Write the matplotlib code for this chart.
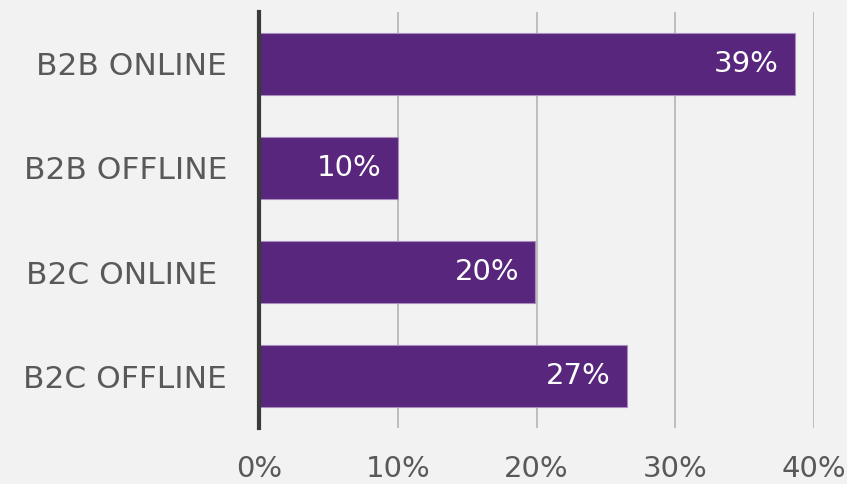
import matplotlib.pyplot as plt
from matplotlib.ticker import FuncFormatter

categories = ['B2B ONLINE', 'B2B OFFLINE', 'B2C ONLINE ', 'B2C OFFLINE']
shares = [38.6, 10.0, 19.9, 26.5]
value_labels = ['39%', '10%', '20%', '27%']
x_ticks = [0, 10, 20, 30, 40]

BG = '#f2f2f2'
PURPLE = '#58267c'
TEXT = '#595959'

plt.rcParams['font.family'] = ['DejaVu Sans']

fig = plt.figure(figsize=(8.47, 4.84), dpi=100, facecolor=BG)
ax = fig.add_axes([259 / 847, 56 / 484, 555 / 847, 416 / 484], facecolor=BG)

y = list(range(len(categories)))
ax.barh(y, shares, height=0.6, color=PURPLE, edgecolor='#a98bbd', linewidth=0.8, zorder=3)
for yi, v, lab in zip(y, shares, value_labels):
    ax.text(v - 1.15, yi, lab, ha='right', va='center', color='white',
            fontsize=21, zorder=4)

ax.set_ylim(len(categories) - 0.5, -0.5)
ax.set_xlim(0, 40)
ax.set_yticks(y)
ax.set_yticklabels(categories, fontsize=22.5, color=TEXT)
ax.set_xticks(x_ticks)
ax.xaxis.set_major_formatter(FuncFormatter(lambda v, p: f'{v:.0f}%'))
ax.tick_params(axis='x', length=0, pad=19.5, labelsize=21, labelcolor=TEXT)
ax.tick_params(axis='y', length=0, pad=23)

ax.grid(axis='x', color='#b4b4b4', linewidth=1.2, zorder=0)
for s in ['top', 'right', 'bottom']:
    ax.spines[s].set_visible(False)
ax.spines['left'].set_color('#3a3a3a')
ax.spines['left'].set_linewidth(3)
ax.spines['left'].set_zorder(5)

fig.savefig('out.png', dpi=100, facecolor=BG)
